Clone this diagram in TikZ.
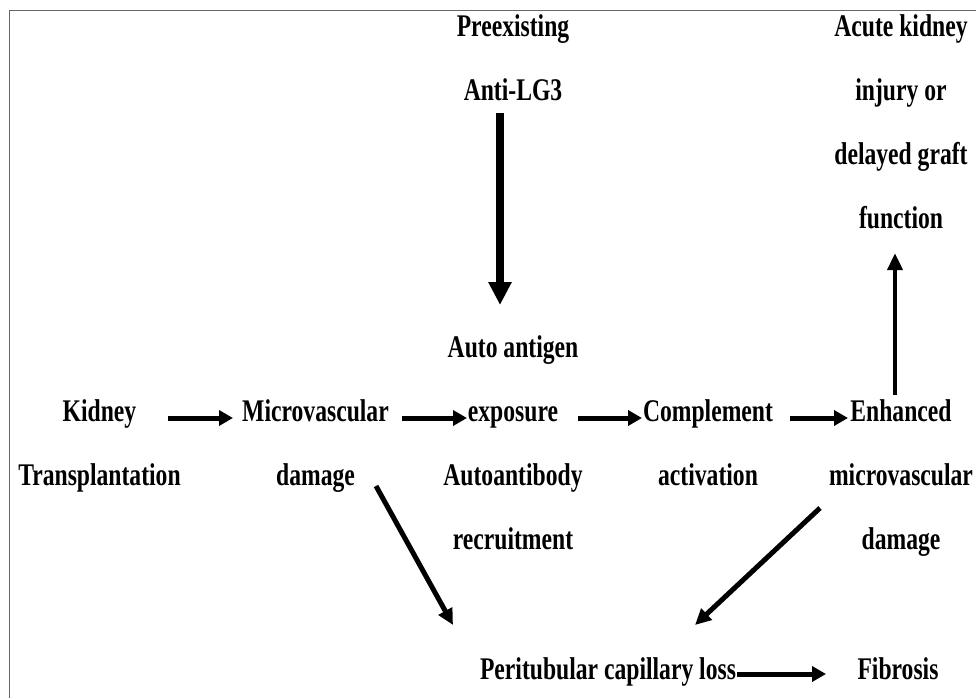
\documentclass[tikz,border=0pt]{standalone}
\usepackage{fontspec}
\usetikzlibrary{arrows.meta,calc}
\newfontfamily\diagfont[FakeStretch=0.75]{Liberation Serif}

\tikzset{
  txt/.style={font=\diagfont\bfseries\fontsize{31.5}{64}\selectfont,
    align=center, inner sep=0pt, anchor=north},
  harr/.style={line width=5, -{Triangle[length=14,width=15]}},
  darr/.style={line width=5, -{Triangle[length=16,width=15]}},
  bigarr/.style={line width=8, -{Triangle[length=23,width=22]}},
  uparr/.style={line width=4, -{Triangle[length=17,width=15]}}
}

\begin{document}
\begin{tikzpicture}[x=1pt,y=-1pt]
   \useasboundingbox (0,0) rectangle (976,698);
   \draw[black!60, line width=1.5] (9.5,698) -- (9.5,10.5) -- (976,10.5);

   % top row
   \node[txt] (pre) at (513,14.5) {Preexisting\\Anti-LG3};
   \node[txt] (aki) at (901,14.5) {Acute kidney\\injury or\\delayed graft\\function};

   % middle row
   \node[txt] (auto) at (513,335.5) {Auto antigen\\exposure\\Autoantibody\\recruitment};
   \node[txt] (kid) at (99.5,399.5) {Kidney\\Transplantation};
   \node[txt] (micro) at (315.5,399.5) {Microvascular\\damage};
   \node[txt] (comp) at (708,399.5) {Complement\\activation};
   \node[txt] (enh) at (901,399.5) {Enhanced\\microvascular\\damage};

   % bottom row
   \node[txt] (ptc) at (608,657.5) {Peritubular capillary loss};
   \node[txt] (fib) at (898,657.5) {Fibrosis};

   \draw[bigarr] ($(pre.north)+(-13,98.5)$) -- ($(auto.north)+(-13,-30.5)$);
   \draw[uparr] ($(enh.north)+(-6,-4.5)$) -- ($(aki.south)+(-6,24)$);

   \draw[harr] ($(kid.north)+(68.5,18.5)$) -- ($(micro.north)+(-82.5,18.5)$);
   \draw[harr] ($(micro.north)+(86.5,18.5)$) -- ($(auto.north)+(-46,82.5)$);
   \draw[harr] ($(auto.north)+(65,82.5)$) -- ($(comp.north)+(-66,18.5)$);
   \draw[harr] ($(comp.north)+(82,18.5)$) -- ($(enh.north)+(-53,18.5)$);

   \draw[darr] ($(micro.north)+(60.5,86.5)$) -- ($(ptc.north)+(-155,-32.5)$);
   \draw[darr] ($(enh.north)+(-81,108.5)$) -- ($(ptc.north)+(87,-32.5)$);
   \draw[harr] ($(ptc.north)+(129,16.5)$) -- ($(fib.north)+(-72,16.5)$);
\end{tikzpicture}
\end{document}
